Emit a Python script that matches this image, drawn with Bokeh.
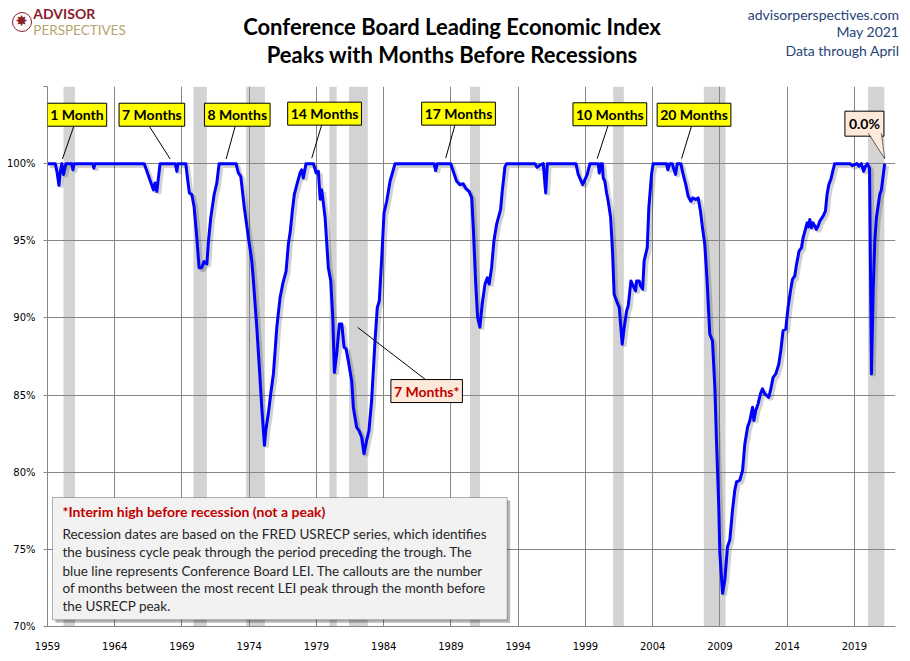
import numpy as np
from bokeh.plotting import figure
from bokeh.layouts import column
from bokeh.models import Label, BoxAnnotation, PolyAnnotation, FixedTicker, Range1d, Div
from bokeh.embed import file_html
from bokeh.resources import INLINE

# ---------------- data ----------------
year_ticks = [1959, 1964, 1969, 1974, 1979, 1984, 1989, 1994, 1999, 2004, 2009, 2014, 2019]
pct_ticks = [70, 75, 80, 85, 90, 95, 100, 105]
pct_tick_labels = ["70%", "75%", "80%", "85%", "90%", "95%", "100%", ""]

# recession periods (FRED USRECP), decimal years
rec_start = [1960.19, 1969.85, 1973.77, 1979.96, 1981.42, 1990.41, 2001.06, 2007.80, 2020.01]
rec_end = [1961.04, 1970.85, 1975.16, 1980.50, 1982.81, 1991.16, 2001.85, 2009.41, 2021.22]

# LEI as % of its previous peak (decimal year, percent)
lei_year = [
    1959.00, 1959.57, 1959.70, 1959.85, 1959.94, 1960.07, 1960.19, 1960.37, 1960.80, 1960.89,
    1960.98, 1962.37, 1962.45, 1962.52, 1966.19, 1966.39, 1966.63, 1966.88, 1967.00, 1967.13,
    1967.37, 1968.49, 1968.62, 1968.69, 1969.28, 1969.43, 1969.55, 1969.73, 1969.90, 1970.10,
    1970.27, 1970.47, 1970.64, 1970.85, 1970.97, 1971.14, 1971.39, 1971.59, 1971.76, 1973.02,
    1973.19, 1973.37, 1973.64, 1973.94, 1974.19, 1974.31, 1974.56, 1974.75, 1974.93, 1975.13,
    1975.23, 1975.42, 1975.60, 1975.80, 1976.05, 1976.29, 1976.49, 1976.74, 1976.91, 1977.05,
    1977.20, 1977.35, 1977.53, 1977.78, 1977.90, 1978.02, 1978.22, 1978.77, 1978.97, 1979.14,
    1979.27, 1979.39, 1979.64, 1979.88, 1980.06, 1980.21, 1980.33, 1980.50, 1980.70, 1980.88,
    1981.05, 1981.20, 1981.37, 1981.62, 1981.74, 1981.99, 1982.16, 1982.36, 1982.53, 1982.73,
    1982.90, 1983.10, 1983.35, 1983.52, 1983.67, 1983.85, 1984.02, 1984.22, 1984.47, 1984.84,
    1987.74, 1987.86, 1987.98, 1988.98, 1989.17, 1989.42, 1989.67, 1989.91, 1990.09, 1990.34,
    1990.54, 1990.66, 1990.84, 1990.98, 1991.15, 1991.32, 1991.53, 1991.70, 1991.84, 1992.02,
    1992.19, 1992.39, 1992.69, 1992.81, 1993.01, 1993.14, 1995.24, 1995.41, 1995.61, 1995.86,
    1996.04, 1996.16, 1998.29, 1998.46, 1998.79, 1998.96, 1999.13, 1999.33, 1999.95, 2000.02,
    2000.15, 2000.25, 2000.32, 2000.44, 2000.57, 2000.69, 2000.87, 2001.01, 2001.13, 2001.31,
    2001.51, 2001.73, 2001.88, 2002.06, 2002.18, 2002.38, 2002.55, 2002.73, 2002.80, 2002.99,
    2003.10, 2003.25, 2003.36, 2003.59, 2003.71, 2003.91, 2004.03, 2005.03, 2005.12, 2005.27,
    2005.45, 2005.58, 2005.70, 2005.82, 2006.09, 2006.26, 2006.46, 2006.63, 2006.83, 2007.00,
    2007.20, 2007.38, 2007.55, 2007.70, 2007.87, 2008.04, 2008.24, 2008.44, 2008.62, 2008.74,
    2008.91, 2008.99, 2009.19, 2009.36, 2009.56, 2009.73, 2009.93, 2010.10, 2010.23, 2010.47,
    2010.68, 2010.85, 2011.05, 2011.22, 2011.42, 2011.52, 2011.66, 2011.83, 2012.01, 2012.16,
    2012.33, 2012.63, 2012.78, 2012.95, 2013.15, 2013.37, 2013.52, 2013.69, 2013.89, 2014.06,
    2014.24, 2014.39, 2014.56, 2014.69, 2014.88, 2015.06, 2015.18, 2015.38, 2015.48, 2015.58,
    2015.68, 2015.80, 2015.92, 2016.05, 2016.17, 2016.29, 2016.42, 2016.67, 2016.84, 2016.96,
    2017.09, 2017.24, 2017.41, 2017.53, 2018.65, 2018.84, 2019.19, 2019.33, 2019.51, 2019.68,
    2019.80, 2019.96, 2020.12, 2020.26, 2020.39, 2020.51, 2020.63, 2020.88, 2021.00, 2021.13,
    2021.25,
]
lei_pct = [
    100.0, 100.0, 99.5, 98.6, 99.4, 100.0, 99.3, 100.0, 100.0, 99.6,
    100.0, 100.0, 99.7, 100.0, 100.0, 99.5, 98.9, 98.3, 98.75, 98.2,
    100.0, 100.0, 99.5, 100.0, 100.0, 98.9, 98.1, 98.0, 97.2, 95.2,
    93.26, 93.26, 93.65, 93.5, 95.0, 96.5, 98.0, 98.75, 100.0, 100.0,
    99.4, 99.18, 97.1, 95.2, 93.7, 92.4, 89.4, 86.8, 84.2, 81.74,
    82.7, 83.8, 85.1, 86.4, 89.4, 91.3, 92.2, 93.04, 94.8, 95.6,
    96.9, 98.0, 98.6, 99.4, 99.6, 99.07, 100.0, 100.0, 99.4, 99.5,
    97.7, 98.3, 96.5, 93.26, 92.4, 90.0, 86.47, 87.66, 89.6, 89.6,
    88.1, 88.0, 87.2, 85.9, 84.2, 82.9, 82.7, 82.27, 81.2, 82.06,
    82.7, 84.65, 88.5, 90.67, 91.1, 93.9, 96.8, 97.56, 98.86, 100.0,
    100.0, 99.55, 100.0, 100.0, 99.5, 98.86, 98.64, 98.7, 98.4, 98.2,
    97.8, 95.84, 92.2, 90.03, 89.4, 90.9, 92.2, 92.6, 92.2, 93.26,
    94.98, 96.06, 97.03, 98.2, 99.8, 100.0, 100.0, 99.76, 99.9, 100.0,
    98.1, 100.0, 100.0, 99.3, 98.64, 98.97, 99.3, 100.0, 100.0, 99.4,
    100.0, 100.0, 99.07, 98.86, 98.1, 97.56, 96.5, 94.3, 91.54, 91.1,
    90.67, 88.3, 89.4, 90.46, 90.8, 92.4, 92.07, 91.75, 92.4, 92.4,
    92.07, 91.86, 93.7, 94.55, 97.13, 99.3, 100.0, 100.0, 99.6, 100.0,
    100.0, 99.6, 99.3, 100.0, 100.0, 99.3, 98.64, 97.9, 97.56, 97.78,
    97.67, 97.78, 96.92, 95.84, 94.77, 92.4, 88.95, 88.52, 85.5, 82.06,
    77.75, 74.74, 72.16, 73.02, 75.17, 75.6, 77.54, 78.83, 79.37, 79.48,
    80.12, 81.85, 82.92, 83.35, 84.21, 83.35, 84.0, 84.43, 85.08, 85.4,
    85.08, 84.86, 85.4, 86.15, 86.37, 87.0, 87.87, 89.17, 89.28, 90.67,
    91.75, 92.5, 92.72, 93.47, 94.33, 94.55, 95.19, 95.84, 96.16, 95.9,
    96.38, 95.84, 96.16, 95.95, 95.74, 95.95, 96.27, 96.6, 96.92, 98.0,
    98.64, 98.97, 99.6, 100.0, 100.0, 99.87, 100.0, 99.83, 100.0, 99.5,
    99.8, 100.0, 99.7, 86.37, 91.75, 94.98, 96.49, 98.0, 98.3, 99.2,
    100.0,
]

# callouts: months from LEI peak to the month before the recession peak
callout_text = ["1 Month", "7 Months", "8 Months", "14 Months", "17 Months", "10 Months", "20 Months"]
latest_text = "0.0%"
interim_text = "7 Months*"

title_lines = ["Conference Board Leading Economic Index", "Peaks with Months Before Recessions"]
source_lines = ["advisorperspectives.com", "May 2021", "Data through April"]
logo_words = ["ADVISOR", "PERSPECTIVES"]
note_head = "*Interim high before recession (not a peak)"
note_lines = [
    "Recession dates are based on the FRED USRECP series, which identifies",
    "the business cycle peak through the period preceding the trough. The",
    "blue line represents Conference Board LEI. The callouts are the number",
    "of months between the most recent LEI peak through the month  before",
    "the USRECP peak.",
]

# ---------------- styling ----------------
FONT = "Lato"
AXFONT = "DejaVu Sans"
GRID = "#868686"
W = 899
TOP_H = 86
MAIN_H = 566

# ---------------- header (titles, logo, source) ----------------
def span(text, left=None, right=None, top=0, size=13, bold=False, color="black", center=False, lh=1.2):
    pos = f"left:{left}px;" if left is not None else f"right:{right}px;"
    tr = "translate(-50%,-50%)" if center else "translateY(-50%)"
    weight = "bold" if bold else "normal"
    return (f'<span style="position:absolute;{pos}top:{top}px;transform:{tr};white-space:nowrap;'
            f'font-family:{FONT};font-size:{size}px;font-weight:{weight};color:{color};line-height:{lh};">'
            f'{text}</span>')


parts = []
for t, py in zip(title_lines, [27.0, 55.0]):
    parts.append(span(t, left=452, top=py, size=22, bold=True, center=True))
for t, py in zip(source_lines, [15.0, 32.3, 50.7]):
    parts.append(span(t, right=0, top=py, size=14, color="#264478"))
parts.append('<span style="position:absolute;left:11.5px;top:11.5px;width:20px;height:20px;'
             'box-sizing:border-box;border:1.5px solid #8B1C2B;border-radius:50%;text-align:center;'
             'line-height:17px;font-family:DejaVu Sans;font-size:15px;color:#8B1C2B;">\u2738</span>')
parts.append(span(logo_words[0], left=33.3, top=14.0, size=14, bold=True, color="#8B1C2B", lh=1.0))
parts.append(span(logo_words[1], left=33.3, top=31.0, size=13.5, color="#B8A36E", lh=1.0))

header = Div(text=f'<div style="position:relative;width:{W}px;height:{TOP_H}px;">' + "".join(parts) + "</div>",
             width=W, height=TOP_H, margin=0, styles={"overflow": "visible"})

# ---------------- main chart ----------------
p = figure(
    width=W, height=MAIN_H,
    x_range=Range1d(1959, 2022.05), y_range=Range1d(70, 105),
    output_backend="svg", toolbar_location=None, tools="",
    min_border_left=47, min_border_right=4, min_border_top=0, min_border_bottom=25,
)
p.outline_line_color = None
p.background_fill_color = "white"
p.border_fill_color = "white"

p.xaxis.ticker = FixedTicker(ticks=year_ticks)
p.xaxis.major_tick_line_color = None
p.xaxis.minor_tick_line_color = None
p.xaxis.axis_line_color = GRID
p.xaxis.major_label_standoff = 9
p.xaxis.major_label_text_font = AXFONT
p.xaxis.major_label_text_font_size = "10px"
p.xaxis.major_label_text_color = "black"

p.yaxis.ticker = FixedTicker(ticks=pct_ticks)
p.yaxis.major_label_overrides = {t: l for t, l in zip(pct_ticks, pct_tick_labels)}
p.yaxis.major_tick_out = 4
p.yaxis.major_tick_in = 0
p.yaxis.major_tick_line_color = GRID
p.yaxis.minor_tick_line_color = None
p.yaxis.axis_line_color = GRID
p.yaxis.major_label_standoff = 8
p.yaxis.major_label_text_font = AXFONT
p.yaxis.major_label_text_font_size = "10px"
p.yaxis.major_label_text_color = "black"

p.xgrid.ticker = FixedTicker(ticks=year_ticks)
p.ygrid.ticker = FixedTicker(ticks=pct_ticks)
for g in (p.xgrid, p.ygrid):
    g.grid_line_color = GRID
    g.grid_line_width = 1
    g.grid_line_alpha = 1

# recession shading
for s, e in zip(rec_start, rec_end):
    p.add_layout(BoxAnnotation(left=s, right=e, fill_color="#D3D3D3", fill_alpha=1,
                               line_color=None, level="image"))

# LEI line with soft shadow
xs = np.array(lei_year)
ys = np.array(lei_pct)
p.line(xs + 0.17, ys - 0.15, line_color="black", line_alpha=0.18, line_width=4)
p.line(xs, ys, line_color="#0000FF", line_width=3, line_join="round")


def box_label(x, y, text, fill, color, size="14px", pad=3):
    common = dict(x=x, y=y, text=text, text_align="center", text_baseline="middle",
                  text_font=FONT, text_font_size=size, text_font_style="bold", padding=pad)
    p.add_layout(Label(text_alpha=0, background_fill_color="black", background_fill_alpha=0.3,
                       x_offset=3, y_offset=-3, **common))
    p.add_layout(Label(text_color=color, background_fill_color=fill, background_fill_alpha=1,
                       border_line_color="black", border_line_width=1, **common))


# leader lines (placement, in data units)
leader_from = [(1960.95, 102.41), (1966.58, 102.41), (1972.95, 102.41), (1979.39, 102.52),
               (1989.30, 102.52), (2000.67, 102.45), (2006.89, 102.45), (1987.19, 85.95)]
leader_to = [(1960.11, 100.30), (1968.12, 100.30), (1972.28, 100.30), (1978.65, 100.36),
             (1988.61, 100.36), (1999.87, 100.32), (2006.14, 100.32), (1982.07, 89.38)]
p.segment(x0=[a[0] for a in leader_from], y0=[a[1] for a in leader_from],
          x1=[b[0] for b in leader_to], y1=[b[1] for b in leader_to],
          line_color="black", line_width=1)

callout_pos = [(1961.19, 103.17), (1966.76, 103.17), (1973.11, 103.17), (1979.60, 103.24),
               (1989.56, 103.24), (2000.81, 103.20), (2007.07, 103.17)]
for (bx, by), t in zip(callout_pos, callout_text):
    box_label(bx, by, t, "#FFFF00", "black")

box_label(1987.19, 85.26, interim_text, "#FDE9D9", "#C00000")

# latest-value callout with pointer
box_label(2019.74, 102.59, latest_text, "#FDE9D9", "black", pad=4)
p.add_layout(PolyAnnotation(xs=[2020.02, 2021.00, 2021.25], ys=[102.05, 102.05, 100.32],
                            fill_color="#FDE9D9", fill_alpha=1, line_alpha=0))
p.add_layout(PolyAnnotation(xs=[2020.02, 2021.25, 2021.00, 2021.25], ys=[101.98, 100.32, 101.98, 100.32],
                            fill_alpha=0, line_color="black", line_width=1))

# note box
p.add_layout(BoxAnnotation(left=1959.59, right=1993.40, bottom=70.24, top=78.17,
                           fill_color="black", fill_alpha=0.28, line_color=None))
p.add_layout(BoxAnnotation(left=1959.37, right=1993.18, bottom=70.43, top=78.36,
                           fill_color="#F2F2F2", fill_alpha=1, line_color="black", line_width=1))
p.add_layout(Label(x=1960.11, y=77.43, text=note_head, text_baseline="middle",
                   text_font=FONT, text_font_size="14px", text_font_style="bold", text_color="#C00000"))
for t, yy in zip(note_lines, [75.97, 74.81, 73.62, 72.48, 71.34]):
    p.add_layout(Label(x=1960.11, y=yy, text=t, text_baseline="middle",
                       text_font=FONT, text_font_size="13.5px", text_color="#262626"))

layout = column(header, p, spacing=0)
open("out.html", "w").write(file_html(layout, INLINE))
